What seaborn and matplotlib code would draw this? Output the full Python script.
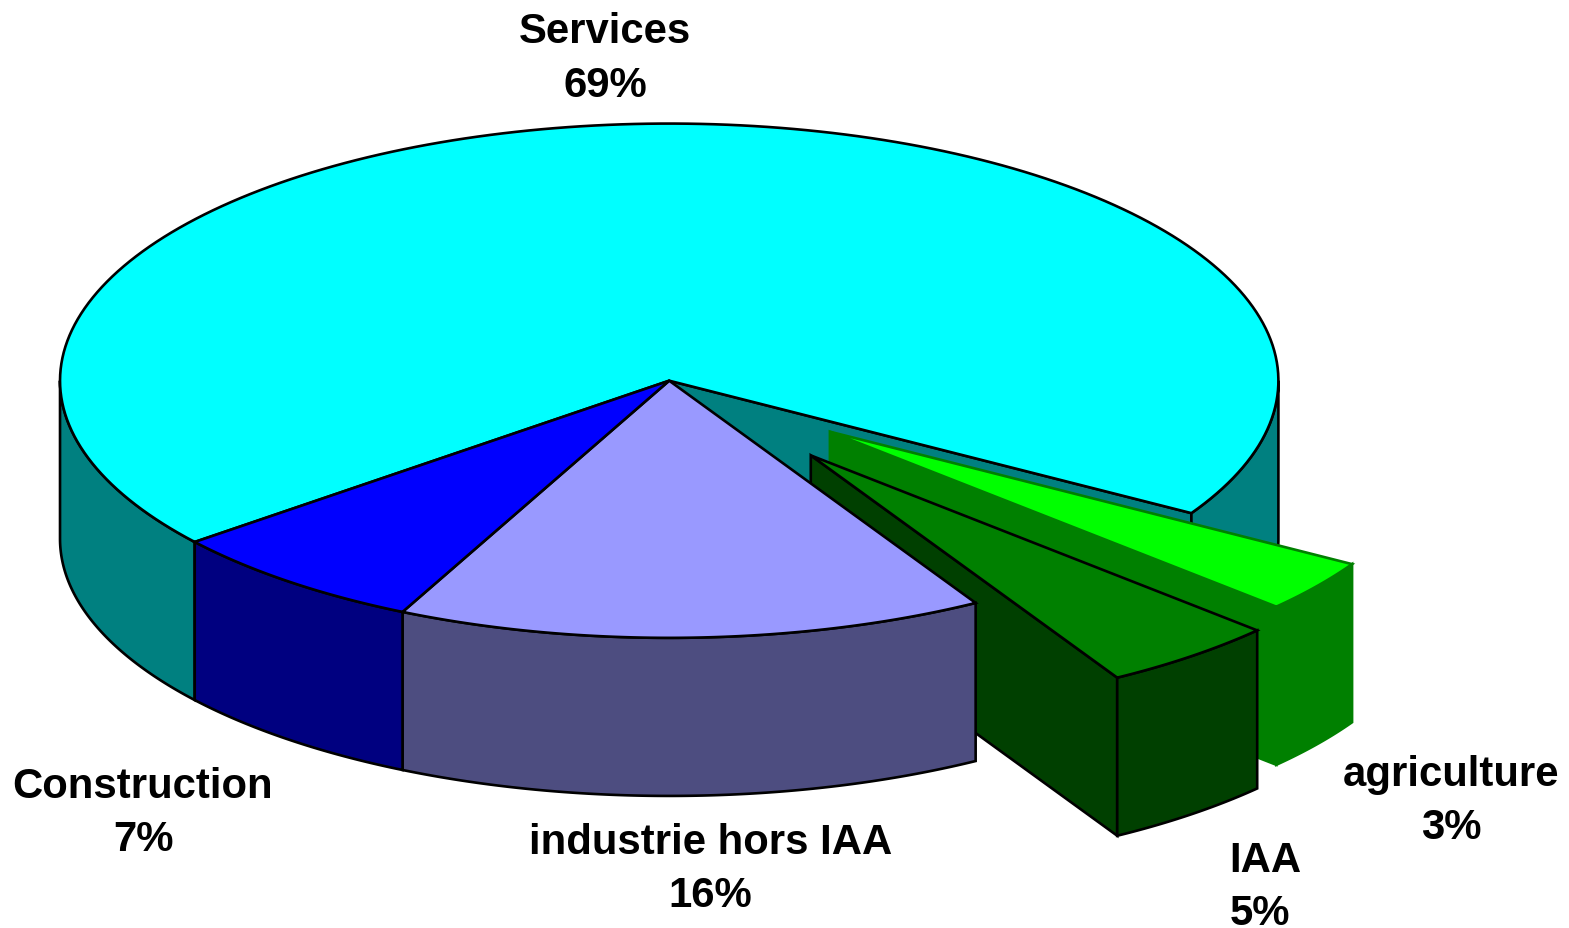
import numpy as np
import seaborn as sns
import matplotlib.pyplot as plt

# parts du chiffre
secteurs = ["Services", "Construction", "industrie hors IAA", "IAA", "agriculture"]
parts = [69.4, 7.0, 15.6, 4.7, 3.3]
explosion = [0, 0, 0, 0.372, 0.33]

couleurs_dessus = ["#00ffff", "#0000ff", "#9999ff", "#008000", "#00ff00"]
couleurs_cote = ["#008080", "#000080", "#4d4d80", "#004000", "#008000"]
couleurs_trait = ["black", "black", "black", "black", "#008000"]

# position des etiquettes (x, ligne de base 1, ligne de base 2, alignement)
pos_labels = [(605, 43, 97, "center"), (143, 798, 851, "center"), (710, 854, 907, "center"),
              (1229, 872, 925, "left"), (1451, 786, 839, "center")]

cx, cy = 669, 381
rx, ry = 609, 257
hauteur = 158
angle_depart = -31.0
lw = 1.9

sns.set_theme(style="white")
plt.rcParams["font.family"] = ["Liberation Sans", "DejaVu Sans"]

fig = plt.figure(figsize=(15.695, 9.285), dpi=100)
ax = fig.add_axes([0, 0, 1, 1])
ax.set_xlim(0, 1569)
ax.set_ylim(928, 0)
ax.axis("off")

bornes = angle_depart + np.concatenate([[0], np.cumsum(parts)]) * 3.6


def arc(a1, a2, dx, dy):
    t = np.radians(np.linspace(a1, a2, 200))
    return cx + dx + rx * np.cos(t), cy + dy - ry * np.sin(t)


def poly(x, y, couleur, trait):
    ax.fill(x, y, facecolor=couleur, edgecolor=trait, linewidth=lw, joinstyle="miter")


def cote(a1, a2, dx, dy, couleur, trait):
    # paroi exterieure entre deux angles
    x, y = arc(a1, a2, dx, dy)
    poly(np.r_[x, x[::-1]], np.r_[y, y[::-1] + hauteur], couleur, trait)


def coupe(a, dx, dy, couleur, trait):
    # paroi plane entre le centre et le bord
    x, y = arc(a, a, dx, dy)
    x0, y0 = cx + dx, cy + dy
    poly([x0, x[0], x[0], x0], [y0, y[0], y[0] + hauteur, y0 + hauteur], couleur, trait)


def dessus(a1, a2, dx, dy, couleur, trait):
    x, y = arc(a1, a2, dx, dy)
    poly(np.r_[cx + dx, x], np.r_[cy + dy, y], couleur, trait)


def decalage(i):
    mid = np.radians((bornes[i] + bornes[i + 1]) / 2)
    return explosion[i] * rx * np.cos(mid), -explosion[i] * ry * np.sin(mid)


# Services : le fond, visible derriere les parts sorties
coupe(bornes[0], 0, 0, couleurs_cote[0], "black")
cote(bornes[0], 0, 0, 0, couleurs_cote[0], "black")
cote(180, bornes[1], 0, 0, couleurs_cote[0], "black")
dessus(bornes[0], bornes[1], 0, 0, couleurs_dessus[0], "black")

# parts sorties, de la plus eloignee a la plus proche
for i in [4, 3]:
    dx, dy = decalage(i)
    coupe(bornes[i], dx, dy, couleurs_cote[i], couleurs_trait[i])
    cote(bornes[i], bornes[i + 1], dx, dy, couleurs_cote[i], couleurs_trait[i])
    dessus(bornes[i], bornes[i + 1], dx, dy, couleurs_dessus[i], couleurs_trait[i])

# parts restees en place
for i in [2, 1]:
    cote(bornes[i], bornes[i + 1], 0, 0, couleurs_cote[i], "black")
    dessus(bornes[i], bornes[i + 1], 0, 0, couleurs_dessus[i], "black")

for nom, part, (x, y1, y2, ha) in zip(secteurs, parts, pos_labels):
    ax.text(x, y1, nom, ha=ha, va="baseline", fontsize=30.2, fontweight="bold", color="black")
    ax.text(x, y2, "%d%%" % round(part), ha=ha, va="baseline", fontsize=30.2, fontweight="bold", color="black")

plt.savefig("out.png", dpi=100)
